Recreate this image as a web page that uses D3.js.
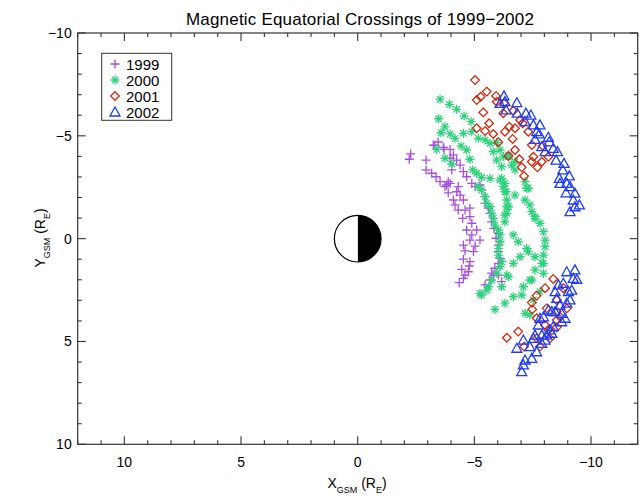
<!DOCTYPE html>
<html><head><meta charset="utf-8">
<script src="https://cdn.jsdelivr.net/npm/d3@7"></script>
<style>body{margin:0;background:#fff}svg{display:block}text{font-family:"Liberation Sans",Arial,sans-serif;fill:#000}</style>
</head><body>
<svg id="c" width="644" height="498"></svg>
<script>
const title = "Magnetic Equatorial Crossings of 1999\u22122002";
const years = ["1999","2000","2001","2002"];
const colors = ["#a64fe0","#2fd27c","#d0290f","#1f3cf0"];
const xTicks = [10,5,0,-5,-10];
const yTicks = [-10,-5,0,5,10];

const s1999 = [[-2.27,-4.12],[-2.21,-3.86],[-2.93,-3.82],[-3.45,-4.70],[-3.31,-4.54],[-3.24,-4.55],[-3.67,-4.44],[-3.70,-4.34],[-3.96,-4.34],
[-2.93,-3.34],[-3.17,-3.18],[-3.36,-3.01],[-3.53,-2.77],[-3.81,-2.61],[-3.88,-2.77],[-3.74,-2.53],[-4.31,-2.53],[-4.10,-4.07],[-3.96,-3.91],
[-4.24,-3.82],[-4.39,-3.58],[-4.53,-3.26],[-4.03,-3.34],[-4.67,-3.01],[-4.89,-2.69],[-5.03,-2.53],
[-3.96,-2.69],[-3.88,-2.23],[-4.24,-2.28],[-4.39,-2.12],[-4.10,-1.88],[-4.17,-1.64],[-4.53,-1.88],[-4.31,-1.39],[-4.60,-1.39],[-4.81,-1.48],
[-4.81,-1.07],[-4.50,-0.99],[-4.89,-0.75],[-4.67,-0.42],[-5.10,-0.42],[-4.89,-0.18],[-5.24,0.07],[-4.81,0.07],[-4.53,0.31],[-4.60,0.59],
[-5.03,0.36],[-4.96,0.63],[-4.53,1.00],[-4.81,1.12],[-4.78,1.33],[-4.46,1.49],[-4.74,1.61],[-4.60,1.77],[-4.53,1.93],[-4.35,2.14],
[-5.24,-2.61],[-5.31,-2.37],[-5.46,-2.04],[-5.46,-1.72],[-5.60,-1.48],[-5.67,-1.23],[-5.74,-0.82],[-5.84,-0.50],[-6.03,-0.26],[-5.93,-0.02],
[-6.03,0.31],[-6.03,0.63],[-6.10,0.96],[-6.03,1.20],[-5.88,1.44],[-5.74,1.68],[-5.67,2.01],[-6.17,2.09],[-5.46,2.25],[-6.03,1.77],[-5.81,1.77]];

const s2000 = [[-3.53,-6.78],[-3.93,-6.53],[-4.24,-6.29],[-4.56,-5.96],[-4.86,-5.69],[-3.47,-5.83],[-3.74,-5.44],[-3.57,-5.15],[-3.96,-5.09],
[-4.17,-4.88],[-4.53,-5.12],[-4.43,-4.51],[-4.67,-4.31],[-4.89,-5.20],[-5.17,-4.88],[-5.46,-4.80],[-5.67,-4.64],[-5.96,-4.67],[-3.39,-4.34],
[-3.74,-3.91],[-4.03,-3.63],[-4.81,-3.86],[-4.93,-3.34],[-5.10,-3.18],[-5.31,-2.98],[-5.67,-2.93],[-6.10,-2.85],[-6.31,-2.69],[-5.81,-4.23],
[-5.96,-3.82],[-6.24,-3.98],[-6.46,-3.98],[-6.60,-3.58],[-6.74,-3.34],[-5.16,-2.53],
[-6.17,-3.50],[-6.10,-4.31],[-6.46,-4.07],[-6.74,-3.74],[-6.17,-2.93],[-6.24,-2.53],[-6.36,-2.28],[-6.74,-2.12],[-7.24,-2.45],[-7.17,-1.88],
[-7.38,-1.64],[-7.46,-1.31],[-7.60,-1.07],[-6.39,-1.55],[-6.31,-1.15],
[-5.31,-2.37],[-5.46,-2.04],[-5.53,-1.72],[-5.67,-1.55],[-5.74,-1.23],[-5.81,-0.99],[-5.88,-0.66],[-6.03,-0.42],[-6.10,-0.18],[-6.10,0.15],
[-6.03,0.47],[-6.03,0.80],[-6.17,1.12],[-6.10,1.36],[-5.96,1.68],[-5.74,2.01],[-5.60,2.34],[-5.31,2.74],
[-6.31,-2.28],[-6.39,-1.88],[-6.46,-1.55],[-6.39,-1.23],[-6.31,-0.82],[-6.67,-0.18],[-6.88,0.15],[-6.96,0.88],[-7.24,0.47],[-7.31,0.63],
[-6.67,1.20],[-6.46,1.85],[-6.17,2.34],
[-7.17,-2.77],[-7.31,-2.45],[-7.60,-0.99],[-7.81,-0.75],[-7.96,-0.34],[-8.03,0.07],[-8.03,0.39],[-7.96,0.80],[-7.96,1.20],[-7.60,0.88],
[-7.60,1.52],[-7.46,2.01],[-7.10,2.34],[-7.03,2.74],
[-6.39,1.77],[-7.89,1.20],[-7.96,1.69],[-7.38,2.01],[-6.67,2.82],[-6.31,3.14],[-5.88,3.44],[-5.53,2.50],[-5.24,2.66],[-7.81,2.58],
[-7.53,2.98],[-7.17,3.63],[-7.38,3.71]];

const s2001 = [[-5.03,-7.71],[-5.53,-7.15],[-5.27,-6.90],[-5.10,-6.74],[-5.93,-6.94],[-5.96,-6.66],[-6.27,-6.58],[-5.38,-6.14],[-6.24,-6.10],
[-6.67,-6.22],[-5.63,-5.61],[-5.10,-5.37],[-5.46,-5.23],[-5.81,-5.09],[-6.50,-5.44],[-6.31,-5.20],[-6.74,-5.37],[-6.64,-4.85],[-6.03,-4.69],
[-6.74,-4.31],[-6.46,-4.02],[-6.96,-5.77],[-7.07,-5.61],[-7.31,-5.20],[-7.46,-4.55],[-7.93,-4.51],[-8.17,-3.98],[-7.53,-3.98],[-7.46,-3.74],
[-7.89,-3.74],[-7.70,-3.47],[-6.93,-3.86],[-7.03,-3.47],[-7.13,-3.05],
[-8.38,1.96],[-8.03,2.41],[-7.67,2.77],[-7.46,3.11],[-7.48,3.44],[-8.10,3.39],[-8.53,2.98],[-8.81,2.41],[-8.96,3.39],[-8.53,3.55],
[-8.53,3.96],[-8.67,3.80],[-8.03,4.20],[-8.17,4.44],[-8.53,4.31],[-7.67,3.87],[-7.67,4.85],[-8.24,4.85],[-6.88,4.52],[-6.39,4.82],
[-7.13,5.25],[-7.81,5.25]];

const s2002 = [[-6.27,-6.94],[-6.31,-6.66],[-6.36,-6.26],[-6.82,-6.61],[-6.84,-6.10],[-7.21,-6.10],[-7.42,-6.01],[-7.17,-5.69],[-7.53,-5.53],
[-7.81,-5.53],[-7.67,-5.20],[-7.78,-5.09],[-7.60,-4.83],[-8.17,-4.93],[-8.21,-4.71],[-7.89,-4.47],[-8.03,-4.23],[-8.38,-4.39],[-8.56,-4.23],
[-8.50,-3.82],[-8.84,-3.66],[-8.79,-3.34],[-8.64,-2.93],[-9.07,-3.05],[-8.96,-2.69],[-9.10,-2.53],[-9.31,-2.21],[-8.93,-2.23],[-9.24,-1.88],
[-9.50,-1.64],[-9.31,-1.55],[-9.10,-1.31],[-8.67,-2.69],[-6.10,-6.58],
[-8.96,1.61],[-9.31,1.52],[-9.39,1.98],[-9.24,1.93],[-8.81,2.17],[-8.60,2.25],[-8.46,2.58],[-9.03,2.58],[-9.17,2.50],[-9.10,2.98],
[-8.96,3.14],[-8.67,3.23],[-8.53,2.90],[-8.32,3.55],[-8.46,3.55],[-8.17,3.47],[-7.96,3.80],[-7.81,3.87],[-8.89,3.87],[-8.74,4.04],
[-8.74,3.63],[-8.38,4.28],[-8.24,4.44],[-8.32,4.60],[-8.10,4.69],[-7.89,4.69],[-7.74,4.20],[-7.60,4.69],[-7.53,4.85],[-7.10,4.93],
[-6.82,5.33],[-7.38,5.25],[-7.89,5.09],[-8.03,4.93],[-7.67,5.50],[-7.46,5.82],[-7.17,5.90],[-7.10,6.14],[-7.03,6.47]];

const series = [s1999, s2000, s2001, s2002];
const glyphs = [
  "M-4.5,0H4.5M0,-4.5V4.5",
  "M-4.5,0H4.5M0,-4.5V4.5M-3.2,-3.2L3.2,3.2M-3.2,3.2L3.2,-3.2",
  "M0,-4.3L4.3,0L0,4.3L-4.3,0Z",
  "M0,-5L5,4L-5,4Z"
];

const svg = d3.select("#c");
const L = 77.7, R = 637.7, T = 33, B = 444.3;
const x = d3.scaleLinear().domain([12,-12]).range([L,R]);
const y = d3.scaleLinear().domain([-10,10]).range([T,B]);
const axisCol = "#333";

// title
svg.append("text").attr("x", 360).attr("y", 25).attr("text-anchor","middle")
  .attr("font-size", 17).attr("letter-spacing", 0.2).text(title);

// box
svg.append("rect").attr("x",L).attr("y",T).attr("width",R-L).attr("height",B-T)
  .attr("fill","none").attr("stroke",axisCol).attr("stroke-width",1.2);

// ticks
const xminor = d3.range(-12,13,1), yminor = d3.range(-10,11,1);
const tk = svg.append("g").attr("stroke",axisCol).attr("stroke-width",1.1);
xminor.forEach(v=>{
  const len = v%5===0 ? 8 : 4;
  tk.append("line").attr("x1",x(v)).attr("x2",x(v)).attr("y1",B).attr("y2",B-len);
  tk.append("line").attr("x1",x(v)).attr("x2",x(v)).attr("y1",T).attr("y2",T+len);
});
yminor.forEach(v=>{
  const len = v%5===0 ? 8 : 4;
  tk.append("line").attr("y1",y(v)).attr("y2",y(v)).attr("x1",L).attr("x2",L+len);
  tk.append("line").attr("y1",y(v)).attr("y2",y(v)).attr("x1",R).attr("x2",R-len);
});
const fmt = v => (v<0 ? "\u2212"+(-v) : ""+v);
xTicks.forEach(v=>{
  svg.append("text").attr("x",x(v)).attr("y",B+23).attr("text-anchor","middle").attr("font-size",14).text(fmt(v));
});
yTicks.forEach(v=>{
  svg.append("text").attr("x",L-6).attr("y",y(v)+5).attr("text-anchor","end").attr("font-size",14).text(fmt(v));
});

// axis titles
const xt = svg.append("text").attr("x",357).attr("y",488).attr("text-anchor","middle").attr("font-size",14);
xt.append("tspan").text("X");
xt.append("tspan").attr("font-size",9).attr("dy",5).text("GSM");
xt.append("tspan").attr("dy",-5).text(" (R");
xt.append("tspan").attr("font-size",9).attr("dy",5).text("E");
xt.append("tspan").attr("dy",-5).text(")");
const yt = svg.append("text").attr("transform","translate(45,238) rotate(-90)").attr("text-anchor","middle").attr("font-size",14);
yt.append("tspan").text("Y");
yt.append("tspan").attr("font-size",9).attr("dy",5).text("GSM");
yt.append("tspan").attr("dy",-5).text(" (R");
yt.append("tspan").attr("font-size",9).attr("dy",5).text("E");
yt.append("tspan").attr("dy",-5).text(")");

// earth
const r = x(0) - x(1);
const cx = x(0), cy = y(0);
const arc = d3.arc().innerRadius(0).outerRadius(r);
const eg = svg.append("g").attr("transform",`translate(${cx},${cy})`);
eg.append("path").attr("d", arc({startAngle:0,endAngle:Math.PI})).attr("fill","#000");
eg.append("path").attr("d", arc({startAngle:Math.PI,endAngle:2*Math.PI})).attr("fill","#fff");
eg.append("circle").attr("r",r).attr("fill","none").attr("stroke","#000").attr("stroke-width",1.2);

// points
series.forEach((s,i)=>{
  svg.append("g").selectAll("path").data(s).join("path")
    .attr("transform",d=>`translate(${x(d[0])},${y(d[1])})`)
    .attr("d",glyphs[i]).attr("fill","none").attr("stroke",colors[i]).attr("stroke-width",1.3);
});

// legend
const lg = svg.append("g");
lg.append("rect").attr("x",101.7).attr("y",53.3).attr("width",70).attr("height",67)
  .attr("fill","#fff").attr("stroke",axisCol).attr("stroke-width",1);
years.forEach((yr,i)=>{
  const yy = 64 + i*16;
  lg.append("path").attr("transform",`translate(115,${yy})`).attr("d",glyphs[i])
    .attr("fill","none").attr("stroke",colors[i]).attr("stroke-width",1.3);
  lg.append("text").attr("x",126).attr("y",yy+5.5).attr("font-size",15).text(yr);
});
</script>
</body></html>
